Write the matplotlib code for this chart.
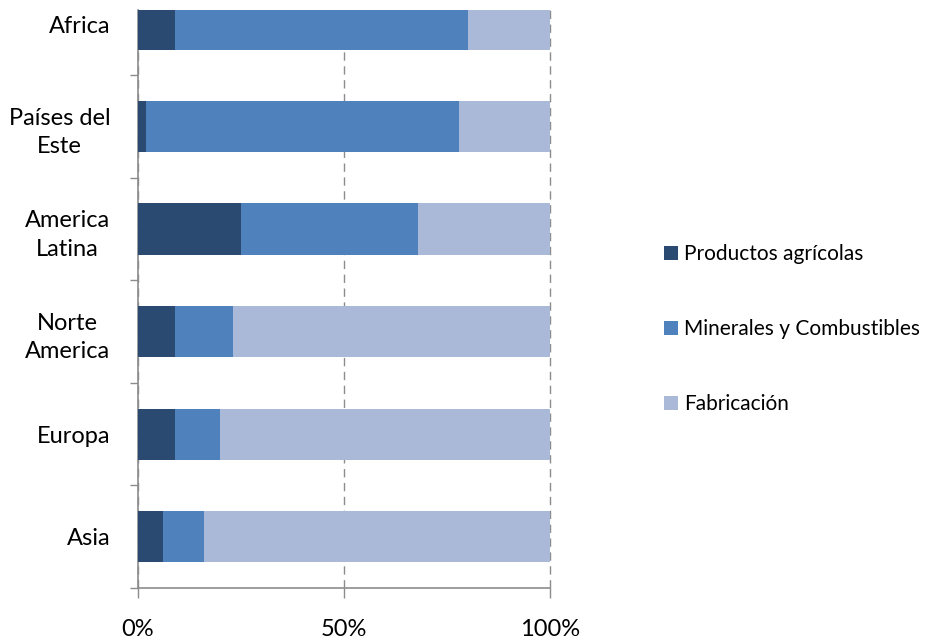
import matplotlib.pyplot as plt
from matplotlib.patches import Patch
import numpy as np

plt.rcParams['font.family'] = ['Lato', 'DejaVu Sans']

# Data (shares, %), bottom to top
regions = ["Asia", "Europa", "Norte\nAmerica", "America\nLatina", "Países del\nEste", "Africa"]
agricolas = [6, 9, 9, 25, 2, 9]
minerales = [10, 11, 14, 43, 76, 71]
fabricacion = [84, 80, 77, 32, 22, 20]
series_names = ["Productos agrícolas", "Minerales y Combustibles", "Fabricación"]
colors = ["#2B4A72", "#4F81BD", "#AAB9D7"]
x_ticks = [0, 50, 100]
x_tick_labels = ["0%", "50%", "100%"]

fig = plt.figure(figsize=(9.32, 6.43), dpi=100)
ax = fig.add_axes([138 / 932, 55 / 643, 412 / 932, 578 / 643])

y = np.arange(len(regions))
left = np.zeros(len(regions))
for vals, name, c in zip([agricolas, minerales, fabricacion], series_names, colors):
    ax.barh(y, vals, left=left, height=0.5, color=c, label=name, zorder=3)
    left += np.array(vals)

ax.set_xlim(0, 100)
ax.set_ylim(-0.5, 5.137)

# gridlines
ax.set_xticks(x_ticks)
ax.set_xticklabels(x_tick_labels, fontsize=17)
ax.grid(axis='x', linestyle=(0, (6, 4)), color='#8c8c8c', linewidth=1, zorder=0)
for gl in ax.get_xgridlines():
    gl.set_clip_on(False)

ax.set_yticks(y)
ax.set_yticklabels(regions, fontsize=17, multialignment='center', linespacing=1.45)
ax.set_yticks(np.arange(-0.5, 5, 1), minor=True)
ax.tick_params(axis='y', which='major', length=0, pad=20)
ax.tick_params(axis='y', which='minor', length=6, color='#8c8c8c', width=1)
ax.tick_params(axis='x', length=7, color='#8c8c8c', width=1, pad=15)

for s in ['top', 'right']:
    ax.spines[s].set_visible(False)
for s in ['left', 'bottom']:
    ax.spines[s].set_color('#8c8c8c')
    ax.spines[s].set_linewidth(1.2)

handles = [Patch(facecolor=c, edgecolor='none') for c in colors]
fig.legend(handles, series_names, loc='upper left', bbox_to_anchor=(664 / 932, 1 - 244 / 643),
           frameon=False, fontsize=15, handlelength=0.65, handleheight=0.65,
           handletextpad=0.3, labelspacing=2.65, borderaxespad=0, borderpad=0)

fig.savefig("out.png", dpi=100)
